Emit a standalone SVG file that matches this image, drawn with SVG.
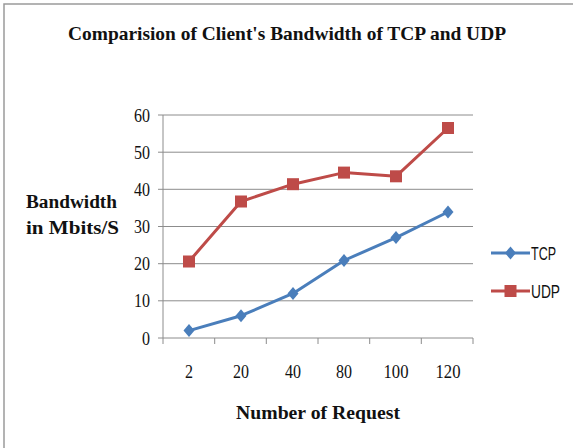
<svg xmlns="http://www.w3.org/2000/svg" width="573" height="448" viewBox="0 0 573 448">
  <style>
    .frame { stroke: #9a9a9a; stroke-width: 1.5; fill: none; }
    .grid { stroke: #8c8c8c; stroke-width: 1; }
    .axis { stroke: #8c8c8c; stroke-width: 1; }
    .tick { font-family: "Liberation Serif", serif; font-size: 19px; fill: #111; }
    .title { font-family: "Liberation Serif", serif; font-weight: bold; fill: #111; }
    .legend { font-family: "Liberation Sans", sans-serif; font-size: 18px; fill: #111; }
    .tcp { stroke: #4a7ebb; stroke-width: 3; fill: none; stroke-linejoin: round; }
    .udp { stroke: #be4b48; stroke-width: 3; fill: none; stroke-linejoin: round; }
  </style>
  <defs>
    <path id="diamond" d="M0,-6.5 L5.5,0 L0,6.5 L-5.5,0 Z" fill="#4a7ebb"/>
    <rect id="square" x="-6" y="-6" width="12" height="12" fill="#be4b48"/>
  </defs>

  <rect width="573" height="448" fill="#ffffff"/>
  <path class="frame" d="M4,448 L4,4 L573,4"/>

  <text class="title" x="287" y="40" font-size="19" text-anchor="middle" textLength="438" lengthAdjust="spacingAndGlyphs">Comparision of Client's Bandwidth of TCP and UDP</text>

  <!-- plot grid -->
  <g id="grid">
    <line class="grid" x1="163" y1="115" x2="473" y2="115"/>
    <line class="grid" x1="163" y1="152.2" x2="473" y2="152.2"/>
    <line class="grid" x1="163" y1="189.3" x2="473" y2="189.3"/>
    <line class="grid" x1="163" y1="226.5" x2="473" y2="226.5"/>
    <line class="grid" x1="163" y1="263.7" x2="473" y2="263.7"/>
    <line class="grid" x1="163" y1="300.8" x2="473" y2="300.8"/>
  </g>

  <g id="axes">
    <line class="axis" x1="163" y1="115" x2="163" y2="338"/>
    <line class="axis" x1="158" y1="338" x2="473" y2="338"/>
    <path class="axis" d="M158,115 H163 M158,152.2 H163 M158,189.3 H163 M158,226.5 H163 M158,263.7 H163 M158,300.8 H163"/>
    <path class="axis" d="M163,338 V344 M214.7,338 V344 M266.3,338 V344 M318,338 V344 M369.7,338 V344 M421.3,338 V344 M473,338 V344"/>
  </g>

  <g id="y-labels" text-anchor="end">
    <text class="tick" x="150" y="122" textLength="16" lengthAdjust="spacingAndGlyphs">60</text>
    <text class="tick" x="150" y="159" textLength="16" lengthAdjust="spacingAndGlyphs">50</text>
    <text class="tick" x="150" y="196" textLength="16" lengthAdjust="spacingAndGlyphs">40</text>
    <text class="tick" x="150" y="233" textLength="16" lengthAdjust="spacingAndGlyphs">30</text>
    <text class="tick" x="150" y="270" textLength="16" lengthAdjust="spacingAndGlyphs">20</text>
    <text class="tick" x="150" y="307" textLength="16" lengthAdjust="spacingAndGlyphs">10</text>
    <text class="tick" x="150" y="345" textLength="8" lengthAdjust="spacingAndGlyphs">0</text>
  </g>

  <g id="x-labels" text-anchor="middle">
    <text class="tick" x="189" y="378" textLength="8" lengthAdjust="spacingAndGlyphs">2</text>
    <text class="tick" x="241" y="378" textLength="16" lengthAdjust="spacingAndGlyphs">20</text>
    <text class="tick" x="293" y="378" textLength="16" lengthAdjust="spacingAndGlyphs">40</text>
    <text class="tick" x="344" y="378" textLength="16" lengthAdjust="spacingAndGlyphs">80</text>
    <text class="tick" x="396" y="378" textLength="25" lengthAdjust="spacingAndGlyphs">100</text>
    <text class="tick" x="448" y="378" textLength="25" lengthAdjust="spacingAndGlyphs">120</text>
  </g>

  <text class="title" x="26" y="208" font-size="18" textLength="91" lengthAdjust="spacingAndGlyphs">Bandwidth</text>
  <text class="title" x="26" y="234" font-size="18" textLength="93" lengthAdjust="spacingAndGlyphs">in Mbits/S</text>
  <text class="title" x="318" y="419" font-size="19" text-anchor="middle" textLength="164" lengthAdjust="spacingAndGlyphs">Number of Request</text>

  <!-- data series -->
  <g id="series-udp">
    <polyline class="udp" points="189,261.5 241,201.5 293,184.2 344,172.6 396,176.3 448,128"/>
    <use href="#square" x="189" y="261.5"/>
    <use href="#square" x="241" y="201.5"/>
    <use href="#square" x="293" y="184.2"/>
    <use href="#square" x="344" y="172.6"/>
    <use href="#square" x="396" y="176.3"/>
    <use href="#square" x="448" y="128"/>
  </g>
  <g id="series-tcp">
    <polyline class="tcp" points="189,330.6 241,315.7 293,293.4 344,260.5 396,237.6 448,212"/>
    <use href="#diamond" x="189" y="330.6"/>
    <use href="#diamond" x="241" y="315.7"/>
    <use href="#diamond" x="293" y="293.4"/>
    <use href="#diamond" x="344" y="260.5"/>
    <use href="#diamond" x="396" y="237.6"/>
    <use href="#diamond" x="448" y="212"/>
  </g>

  <g id="legend">
    <line class="tcp" x1="491" y1="253" x2="530" y2="253"/>
    <use href="#diamond" x="510.5" y="253"/>
    <text class="legend" x="531" y="260" textLength="25" lengthAdjust="spacingAndGlyphs">TCP</text>
    <line class="udp" x1="491" y1="291" x2="530" y2="291"/>
    <use href="#square" x="510.5" y="291"/>
    <text class="legend" x="531" y="298" textLength="29" lengthAdjust="spacingAndGlyphs">UDP</text>
  </g>
</svg>
